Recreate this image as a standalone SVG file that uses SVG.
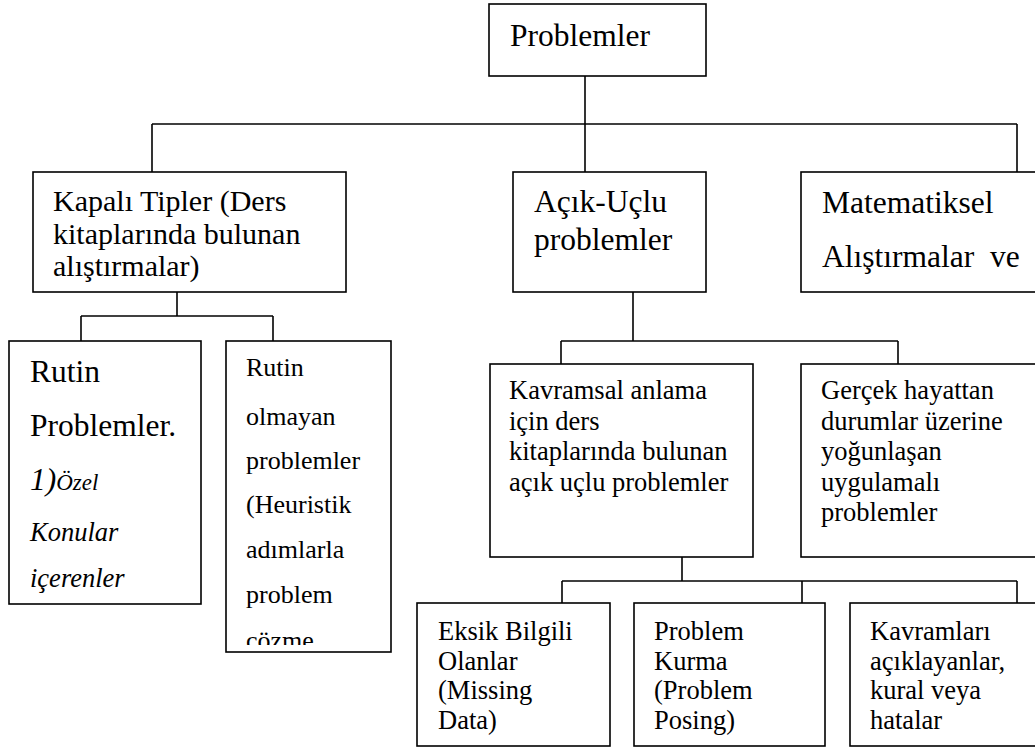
<svg xmlns="http://www.w3.org/2000/svg" width="1035" height="751" viewBox="0 0 1035 751">
<style>
.box{fill:#fff;stroke:#000;stroke-width:1.6}
.con line{stroke:#000;stroke-width:1.6}
text{font-family:"Liberation Serif","Times New Roman",serif;fill:#000}
.lg{font-size:31.5px}
.md{font-size:30px}
.sm{font-size:26.5px}
.it{font-style:italic}
</style>
<defs>
<clipPath id="clipRO"><rect x="226" y="341" width="165" height="304"/></clipPath>
</defs>
<g class="con" id="connectors">
<line x1="585" y1="76" x2="585" y2="172"/>
<line x1="152" y1="124" x2="1017" y2="124"/>
<line x1="152" y1="124" x2="152" y2="172"/>
<line x1="1017" y1="124" x2="1017" y2="172"/>
<line x1="177" y1="292" x2="177" y2="316"/>
<line x1="81" y1="316" x2="273" y2="316"/>
<line x1="81" y1="316" x2="81" y2="341"/>
<line x1="273" y1="316" x2="273" y2="341"/>
<line x1="633" y1="292" x2="633" y2="341"/>
<line x1="561" y1="341" x2="898" y2="341"/>
<line x1="561" y1="341" x2="561" y2="364"/>
<line x1="898" y1="341" x2="898" y2="364"/>
<line x1="682" y1="557" x2="682" y2="581"/>
<line x1="562" y1="581" x2="1017" y2="581"/>
<line x1="562" y1="581" x2="562" y2="603"/>
<line x1="802" y1="581" x2="802" y2="603"/>
<line x1="1017" y1="581" x2="1017" y2="603"/>
</g>
<g id="n-problemler">
<rect class="box" x="489" y="4" width="217" height="72"/>
<text class="lg" x="510" y="46">Problemler</text>
</g>
<g id="n-kapali">
<rect class="box" x="33" y="172" width="313" height="120"/>
<text class="md" x="53" y="211">Kapalı Tipler (Ders</text>
<text class="md" x="53" y="243.5">kitaplarında bulunan</text>
<text class="md" x="53" y="276">alıştırmalar)</text>
</g>
<g id="n-acik">
<rect class="box" x="513" y="172" width="193" height="120"/>
<text class="lg" x="534" y="212">Açık-Uçlu</text>
<text class="lg" x="534" y="250">problemler</text>
</g>
<g id="n-matematiksel">
<rect class="box" x="801" y="172" width="240" height="120"/>
<text class="lg" x="822" y="213">Matematiksel</text>
<text class="lg" x="822" y="267" xml:space="preserve" style="white-space:pre">Alıştırmalar  ve</text>
</g>
<g id="n-rutin">
<rect class="box" x="9" y="341" width="192" height="263"/>
<text class="lg" x="30" y="382">Rutin</text>
<text class="lg" x="30" y="436">Problemler.</text>
<text class="it" x="30" y="490"><tspan style="font-size:31.5px">1)</tspan><tspan style="font-size:23px">Özel</tspan></text>
<text class="sm it" x="30" y="541">Konular</text>
<text class="sm it" x="30" y="587">içerenler</text>
</g>
<g id="n-rutin-olmayan">
<rect class="box" x="226" y="341" width="165" height="311"/>
<g clip-path="url(#clipRO)" style="font-size:26px">
<text x="246" y="376">Rutin</text>
<text x="246" y="425">olmayan</text>
<text x="246" y="469">problemler</text>
<text x="246" y="513">(Heuristik</text>
<text x="246" y="558">adımlarla</text>
<text x="246" y="603">problem</text>
<text x="246" y="649">çözme</text>
</g>
</g>
<g id="n-kavramsal">
<rect class="box" x="490" y="364" width="263" height="193"/>
<text class="sm" x="509" y="399">Kavramsal anlama</text>
<text class="sm" x="509" y="429.5">için ders</text>
<text class="sm" x="509" y="460">kitaplarında bulunan</text>
<text class="sm" x="509" y="490.5">açık uçlu problemler</text>
</g>
<g id="n-gercek">
<rect class="box" x="801" y="364" width="240" height="193"/>
<text class="sm" x="821" y="399">Gerçek hayattan</text>
<text class="sm" x="821" y="429.5">durumlar üzerine</text>
<text class="sm" x="821" y="460">yoğunlaşan</text>
<text class="sm" x="821" y="490.5">uygulamalı</text>
<text class="sm" x="821" y="521">problemler</text>
</g>
<g id="n-eksik">
<rect class="box" x="417" y="603" width="193" height="143"/>
<text class="sm" x="438" y="640">Eksik Bilgili</text>
<text class="sm" x="438" y="669.5">Olanlar</text>
<text class="sm" x="438" y="699">(Missing</text>
<text class="sm" x="438" y="728.5">Data)</text>
</g>
<g id="n-kurma">
<rect class="box" x="634" y="603" width="191" height="143"/>
<text class="sm" x="654" y="640">Problem</text>
<text class="sm" x="654" y="669.5">Kurma</text>
<text class="sm" x="654" y="699">(Problem</text>
<text class="sm" x="654" y="728.5">Posing)</text>
</g>
<g id="n-kavramlari">
<rect class="box" x="850" y="603" width="191" height="143"/>
<text class="sm" x="870" y="640">Kavramları</text>
<text class="sm" x="870" y="669.5">açıklayanlar,</text>
<text class="sm" x="870" y="699">kural veya</text>
<text class="sm" x="870" y="728.5">hatalar</text>
</g>
</svg>
